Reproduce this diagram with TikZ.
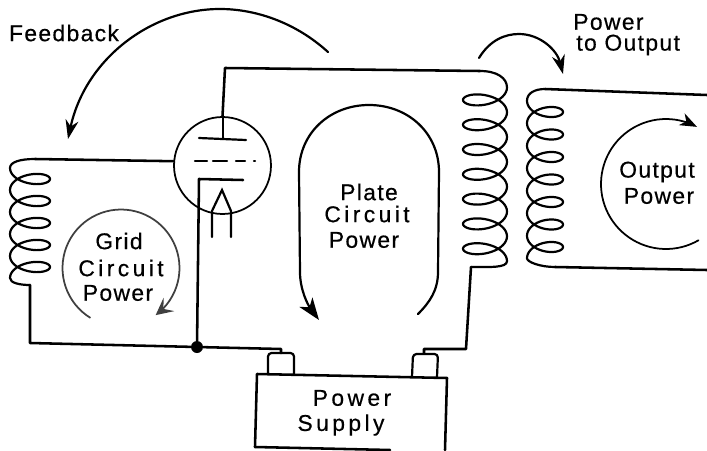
\documentclass[tikz,border=0pt]{standalone}
\usepackage{fontspec}
\newfontfamily\letterfont[LetterSpace=6,FakeBold=0.5]{Liberation Sans}
\newfontfamily\wideletterfont[LetterSpace=15,FakeBold=0.5]{Liberation Sans}
\usetikzlibrary{arrows.meta,positioning}

\begin{document}
\begin{tikzpicture}[x=0.02cm,y=-0.02cm]
\tikzset{
  wire/.style={draw=black,line width=1.45pt,line cap=round,line join=round},
  coilwire/.style={draw=black,line width=1.25pt,line join=round},
  tubepart/.style={draw=black,line width=1.25pt,line cap=round},
  tubecircle/.style={circle,draw=black,line width=1pt,minimum size=1.94cm,inner sep=0pt},
  flowarrow/.style={draw=black,line width=1.25pt,line cap=round,-{Stealth[length=3.8mm,width=2.6mm]}},
  bigarrow/.style={draw=black,line width=1.25pt,line cap=round,-{Stealth[length=4.4mm,width=3.2mm,inset=1.2mm]}},
  greyarrow/.style={draw=black!75,line width=1pt,-{Stealth[length=3.4mm,width=3.4mm,inset=1.4mm]}},
  thinarrow/.style={draw=black,line width=1pt,line cap=round,-{Stealth[length=3.4mm,width=2.6mm,inset=1mm]}},
  junction/.style={circle,fill=black,minimum size=2.4mm,inner sep=0pt},
  lettering/.style={font=\letterfont\fontsize{13}{15}\selectfont,inner sep=0pt},
  wideletter/.style={font=\wideletterfont\fontsize{13}{15}\selectfont,inner sep=0pt}
}
\useasboundingbox (0,0) rectangle (707,450);
\node[tubecircle] (n_tube) at (222.5,165.5) {};
\node[junction] (n_junction) at (197,347) {};
\node[lettering] (n_feedback) at (64,33) {Feedback};
\node[lettering,anchor=west] (n_power_a) at (573,22) {Power};
\node[lettering,anchor=west] (n_to_output) at (576,45) {to Output};
\node[lettering] (n_grid) at (119,241) {Grid};
\node[wideletter] (n_grid_circuit) at (121,268) {Circuit};
\node[lettering] (n_grid_power) at (118,293) {Power};
\node[lettering] (n_plate) at (369,192) {Plate};
\node[wideletter] (n_plate_circuit) at (367,214) {Circuit};
\node[lettering] (n_plate_power) at (364,240) {Power};
\node[lettering] (n_output) at (657,172) {Output};
\node[lettering] (n_output_power) at (659,196) {Power};
\node[wideletter] (n_supply_power) at (352,398) {Power};
\node[wideletter] (n_supply) at (341,425) {Supply};
\coordinate (c_plate_corner) at (225,68);
\coordinate (c_plate_top) at (480,71);
\coordinate (c_plate_end) at (471,267);
\coordinate (c_plate_foot) at (466,349);
\coordinate (c_right_term) at (424,349);
\coordinate (c_left_term) at (281,349);
\coordinate (c_grid_start) at (35,159);
\coordinate (c_grid_end) at (30,285);
\coordinate (c_grid_corner) at (30,343);
\coordinate (c_cathode_left) at (199,179);
\coordinate (c_cathode_right) at (243,180);
\coordinate (c_out_top) at (545,89);
\coordinate (c_out_top_end) at (707,95);
\coordinate (c_out_bot) at (555,267);
\coordinate (c_out_bot_end) at (707,270);
\draw[wire] (n_tube.north) -- (c_plate_corner) -- (c_plate_top);
\draw[coilwire] (c_plate_top) .. controls (497,71) and (507,78) .. (507,87.5) -- plot[domain=0:2520,samples=281] ({485+22*cos(\x)},{87.5+\x/360*24.8+11*sin(\x)}) .. controls (507,268) and (490,267) .. (c_plate_end);
\draw[wire] (c_plate_end) -- (c_plate_foot) -- (c_right_term) -- (424,353);
\draw[wire] (n_tube.175) -- (c_grid_start);
\draw[coilwire] (c_grid_start) .. controls (20,159) and (10,162) .. (10,168) -- plot[domain=0:1800,samples=201] ({30-20*cos(\x)},{168+\x/360*22+10*sin(\x)}) .. controls (10,283) and (20,285) .. (c_grid_end);
\draw[wire] (c_grid_end) -- (c_grid_corner) -- (n_junction) -- (c_left_term) -- (281,353);
\draw[wire] (c_cathode_right) -- (c_cathode_left) -- (n_junction);
\draw[wire] (c_out_top) -- (c_out_top_end);
\draw[coilwire] (c_out_top) .. controls (535,89) and (527,93) .. (527,100.75) -- plot[domain=0:2520,samples=281] ({545-18*cos(\x)},{100.75+\x/360*22.5+10*sin(\x)}) .. controls (527,262) and (540,267) .. (c_out_bot);
\draw[wire] (c_out_bot) -- (c_out_bot_end);
\draw[tubepart] (223,117) -- (223,139);
\draw[tubepart] (199,138) -- (246,140);
\draw[tubepart] (195,161) -- (207,161);
\draw[tubepart] (213,161) -- (227,161);
\draw[tubepart] (236,161) -- (245,161);
\draw[tubepart] (254,161) -- (255,161);
\draw[tubepart] (212,237) -- (212,211) -- (222,190) -- (231,211) -- (231,237);
\draw[flowarrow] (328,52) .. controls (295,22) and (255,9) .. (220,9) .. controls (150,9) and (85,60) .. (68,139);
\draw[flowarrow] (479,58) .. controls (490,40) and (505,34) .. (519,34) .. controls (540,34) and (557,50) .. (563,74);
\draw[bigarrow] (418,314) .. controls (430,302) and (438,290) .. (438,272) -- (439,172) .. controls (439,133) and (408,105) .. (369,105) .. controls (330,105) and (299,133) .. (299,172) -- (300,272) .. controls (300,290) and (308,305) .. (319,320);
\draw[greyarrow] plot[domain=121.5:413.7,samples=60] ({121+58.5*cos(\x)},{268+58.5*sin(\x)});
\draw[thinarrow] plot[domain=60:298.5,samples=60] ({666+65*cos(\x)},{184+65*sin(\x)});
\draw[wire] (255,447) -- (257,374) -- (447,378) -- (445,450);
\draw[wire] (255,447) -- (390,450);
\draw[coilwire,rounded corners=2pt] (268,373) -- (268,353) -- (294,353) -- (294,374);
\draw[coilwire,rounded corners=2pt] (412,377) -- (413,354) -- (438,354) -- (437,377);
\end{tikzpicture}
\end{document}
